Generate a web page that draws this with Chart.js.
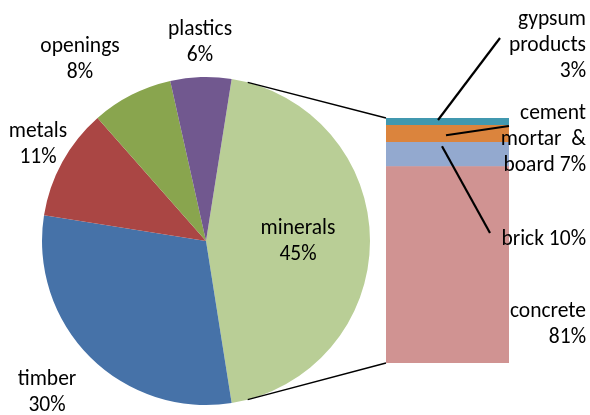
<!DOCTYPE html>
<html>
<head>
<meta charset="utf-8">
<script src="https://cdn.jsdelivr.net/npm/chart.js@4.4.0/dist/chart.umd.min.js"></script>
<style>
  html, body { margin: 0; padding: 0; background: #fff; }
  #wrap { position: relative; width: 590px; height: 415px; }
  #wrap canvas { position: absolute; left: 0; top: 0; }
</style>
</head>
<body>
<div id="wrap">
  <canvas id="pieChart" width="590" height="415"></canvas>
  <canvas id="barChart" width="590" height="415"></canvas>
</div>
<script>
// waste composition, main pie
const pieLabels = ['minerals', 'timber', 'metals', 'openings', 'plastics'];
const pieValues = [45, 30, 11, 8, 6];
const pieColors = ['#B9CE96', '#4672A8', '#AA4644', '#89A54E', '#71588F'];

// breakdown of the minerals slice, stacked bottom to top
const barLabels = ['concrete', 'brick', 'cement mortar  & board', 'gypsum products'];
const barValues = [81, 10, 7, 3];
const barColors = ['#D09392', '#93A9CF', '#DB843D', '#4198AF'];

const FONT = '21.5px Carlito, Lato, sans-serif';
const LINE_H = 26;

// label anchors (centre of first line)
const pieLabelPos = [
  { x: 298, y: 229 },
  { x: 47, y: 380 },
  { x: 38, y: 132 },
  { x: 80, y: 47 },
  { x: 200, y: 30 }
];

// right-aligned labels for the bar, with how the words wrap
const barLabelPos = [
  { y: 312, lines: v => ['concrete', v + '%'] },
  { y: 240, lines: v => ['brick ' + v + '%'] },
  { y: 114, lines: v => ['cement', 'mortar  &', 'board ' + v + '%'] },
  { y: 20, lines: v => ['gypsum', 'products', v + '%'] }
];

// leader lines: start offset inside the segment, end point near the label
const leaders = [
  null,
  { dx: 56, dy: 4, ex: 490, ey: 233 },
  { dx: 60, dy: 10, ex: 509, ey: 126 },
  { dx: 52, dy: 2, ex: 500, ey: 38 }
];

function drawLines(ctx, lines, x, y, align) {
  ctx.save();
  ctx.font = FONT;
  ctx.fillStyle = '#000';
  ctx.textAlign = align;
  ctx.textBaseline = 'middle';
  lines.forEach((t, i) => ctx.fillText(t, x, y + i * LINE_H));
  ctx.restore();
}

const pieLabelPlugin = {
  id: 'pieLabels',
  afterDraw(chart) {
    const ctx = chart.ctx;
    pieValues.forEach((v, i) => {
      const p = pieLabelPos[i];
      drawLines(ctx, [pieLabels[i], v + '%'], p.x, p.y, 'center');
    });
  }
};

const pieChart = new Chart(document.getElementById('pieChart'), {
  type: 'pie',
  data: {
    labels: pieLabels,
    datasets: [{
      data: pieValues,
      backgroundColor: pieColors,
      borderWidth: 0
    }]
  },
  options: {
    responsive: false,
    animation: false,
    rotation: 9,
    layout: { padding: { left: 42, right: 220, top: 77, bottom: 10 } },
    plugins: { legend: { display: false }, tooltip: { enabled: false } }
  },
  plugins: [pieLabelPlugin]
});

const barExtrasPlugin = {
  id: 'barExtras',
  afterDraw(chart) {
    const ctx = chart.ctx;
    const bars = chart.data.datasets.map((_, i) => chart.getDatasetMeta(i).data[0]);
    const bottom = bars[0].getProps(['base'], true).base;
    const topBar = bars[bars.length - 1].getProps(['x', 'y', 'width'], true);
    const left = topBar.x - topBar.width / 2;

    // series lines from the minerals slice to the bar
    const arc = pieChart.getDatasetMeta(0).data[0];
    const a = arc.getProps(['x', 'y', 'startAngle', 'endAngle', 'outerRadius'], true);
    const inset = 0.1;
    const p1 = { x: a.x + a.outerRadius * Math.cos(a.startAngle + inset), y: a.y + a.outerRadius * Math.sin(a.startAngle + inset) };
    const p2 = { x: a.x + a.outerRadius * Math.cos(a.endAngle - inset), y: a.y + a.outerRadius * Math.sin(a.endAngle - inset) };
    ctx.save();
    ctx.strokeStyle = '#000';
    ctx.lineWidth = 1.5;
    ctx.beginPath();
    ctx.moveTo(p1.x, p1.y);
    ctx.lineTo(left, topBar.y);
    ctx.moveTo(p2.x, p2.y);
    ctx.lineTo(left, bottom);
    ctx.stroke();

    // leader lines
    ctx.lineWidth = 2.2;
    bars.forEach((el, i) => {
      const l = leaders[i];
      if (!l) return;
      const b = el.getProps(['x', 'y', 'width'], true);
      ctx.beginPath();
      ctx.moveTo(b.x - b.width / 2 + l.dx, b.y + l.dy);
      ctx.lineTo(l.ex, l.ey);
      ctx.stroke();
    });
    ctx.restore();

    barValues.forEach((v, i) => {
      const p = barLabelPos[i];
      drawLines(ctx, p.lines(v), 586, p.y, 'right');
    });
  }
};

new Chart(document.getElementById('barChart'), {
  type: 'bar',
  data: {
    labels: ['minerals'],
    datasets: barValues.map((v, i) => ({
      label: barLabels[i],
      data: [v],
      backgroundColor: barColors[i],
      borderWidth: 0,
      barPercentage: 1,
      categoryPercentage: 1
    }))
  },
  options: {
    responsive: false,
    animation: false,
    layout: { padding: { left: 386, right: 81, top: 118, bottom: 52 } },
    scales: {
      x: { stacked: true, display: false },
      y: { stacked: true, display: false, min: 0, max: 101 }
    },
    plugins: { legend: { display: false }, tooltip: { enabled: false } }
  },
  plugins: [barExtrasPlugin]
});
</script>
</body>
</html>
